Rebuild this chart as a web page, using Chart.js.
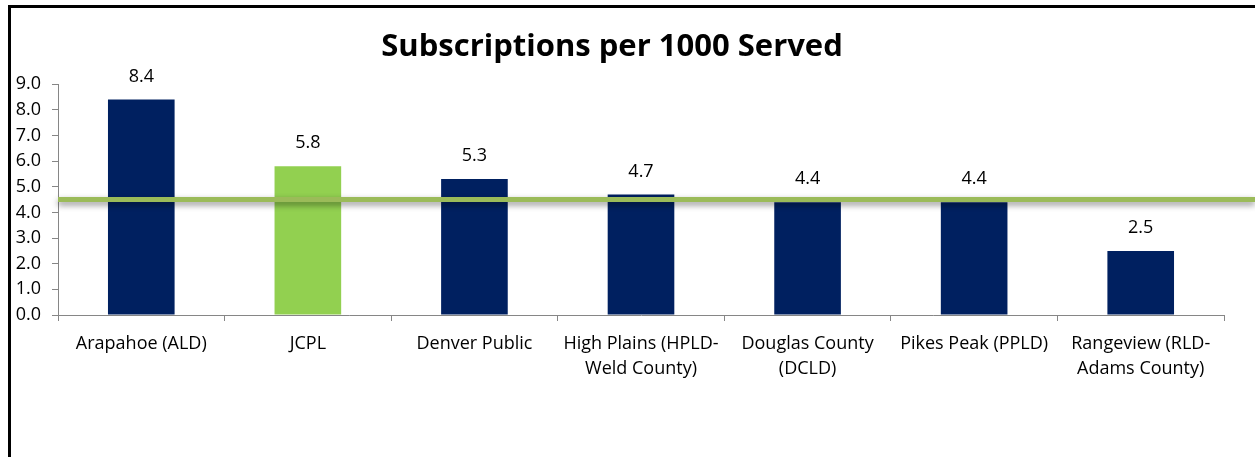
<!DOCTYPE html>
<html>
<head>
<meta charset="utf-8">
<script src="https://cdn.jsdelivr.net/npm/chart.js@4.4.0/dist/chart.umd.min.js"></script>
<style>
  html, body { margin: 0; padding: 0; background: #fff; }
  #wrap { width: 1255px; height: 457px; }
</style>
</head>
<body>
<div id="wrap"><canvas id="myChart" width="1255" height="457"></canvas></div>
<script>
const TITLE = 'Subscriptions per 1000 Served';
const CATEGORIES = [
  'Arapahoe (ALD)',
  'JCPL',
  'Denver Public',
  ['High Plains (HPLD-', 'Weld County)'],
  ['Douglas County', '(DCLD)'],
  'Pikes Peak (PPLD)',
  ['Rangeview (RLD-', 'Adams County)']
];
const VALUES = [8.4, 5.8, 5.3, 4.7, 4.4, 4.4, 2.5];
const BAR_COLORS = ['#002060', '#92D050', '#002060', '#002060', '#002060', '#002060', '#002060'];
const Y_TICKS = [0, 1, 2, 3, 4, 5, 6, 7, 8, 9];
const AVERAGE = 4.5;

const FONT = "'Open Sans', 'Noto Sans', sans-serif";

// frame like the original picture
const framePlugin = {
  id: 'frame',
  beforeDraw(chart) {
    const ctx = chart.ctx;
    ctx.save();
    ctx.fillStyle = '#fff';
    ctx.fillRect(0, 0, chart.width, chart.height);
    ctx.strokeStyle = '#000';
    ctx.lineWidth = 3;
    ctx.beginPath();
    ctx.moveTo(9.5, chart.height);
    ctx.lineTo(9.5, 6.5);
    ctx.lineTo(chart.width, 6.5);
    ctx.stroke();
    ctx.restore();
  }
};

// value labels on top of the bars
const valueLabels = {
  id: 'valueLabels',
  afterDatasetsDraw(chart) {
    const ctx = chart.ctx;
    const meta = chart.getDatasetMeta(0);
    ctx.save();
    ctx.font = '18px ' + FONT;
    ctx.fillStyle = '#000';
    ctx.textAlign = 'center';
    ctx.textBaseline = 'middle';
    meta.data.forEach((bar, i) => {
      ctx.fillText(VALUES[i].toFixed(1), bar.x, bar.y - 23);
    });
    ctx.restore();
  }
};

// average line, runs past the plot to the right edge
const avgLine = {
  id: 'avgLine',
  afterDatasetsDraw(chart) {
    const ctx = chart.ctx;
    const y = chart.scales.y.getPixelForValue(AVERAGE);
    ctx.save();
    ctx.shadowColor = 'rgba(0,0,0,0.45)';
    ctx.shadowBlur = 6;
    ctx.shadowOffsetY = 3;
    ctx.strokeStyle = '#9BBB59';
    ctx.lineWidth = 5;
    ctx.beginPath();
    ctx.moveTo(chart.chartArea.left, y);
    ctx.lineTo(chart.width, y);
    ctx.stroke();
    ctx.restore();
  }
};

const data = {
  labels: CATEGORIES,
  datasets: [{
    data: VALUES,
    backgroundColor: BAR_COLORS,
    borderWidth: 0,
    barPercentage: 0.4,
    categoryPercentage: 1.0
  }]
};

const config = {
  type: 'bar',
  data: data,
  options: {
    responsive: false,
    animation: false,
    layout: { padding: { left: 0, right: 31, top: 0, bottom: 0 } },
    plugins: {
      legend: { display: false },
      tooltip: { enabled: false },
      title: {
        display: true,
        text: TITLE,
        font: { family: FONT, size: 31, weight: 'bold', lineHeight: 1.2 },
        color: '#000',
        padding: { top: 29, bottom: 18 }
      }
    },
    scales: {
      x: {
        grid: { drawOnChartArea: false, color: '#868686', tickLength: 6, offset: true },
        border: { color: '#868686' },
        ticks: { font: { family: FONT, size: 18, lineHeight: 1.39 }, color: '#000', maxRotation: 0, autoSkip: false, padding: 10 },
        afterFit: (s) => { s.height = 142; }
      },
      y: {
        min: 0,
        max: 9,
        afterBuildTicks: (s) => { s.ticks = Y_TICKS.map(v => ({ value: v })); },
        grid: { drawOnChartArea: false, color: '#868686', tickLength: 6 },
        border: { color: '#868686' },
        ticks: {
          font: { family: FONT, size: 18 },
          color: '#000',
          padding: 11,
          callback: (v) => Number(v).toFixed(1)
        },
        afterFit: (s) => { s.width = 58; }
      }
    }
  },
  plugins: [framePlugin, valueLabels, avgLine]
};

const myChart = new Chart(document.getElementById('myChart'), config);
</script>
</body>
</html>
